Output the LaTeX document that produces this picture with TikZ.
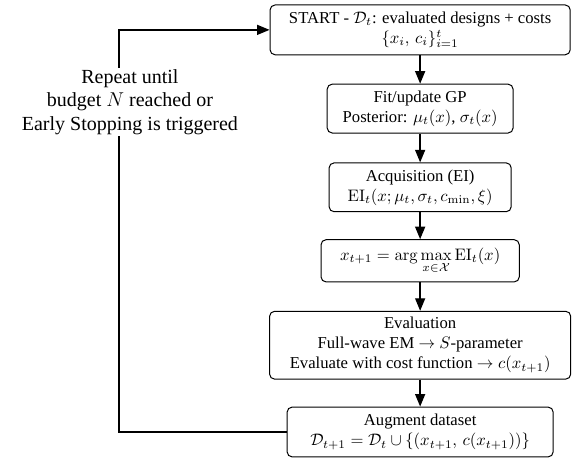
\documentclass[tikz,border=0pt]{standalone}
\usepackage{amsmath}
\usepackage[no-math]{fontspec}
\setmainfont{Liberation Serif}
\usetikzlibrary{arrows.meta}

\tikzset{
    stage/.style = {draw, rounded corners=3pt, align=center, inner sep=3pt, line width=0.6pt},
    flow/.style = {thick, -{Triangle[length=7.5pt, width=6pt]}}
}

\begin{document}
\begin{tikzpicture}
        \useasboundingbox (0,0) rectangle (12.21,-9.74);
        \node[stage, minimum width=6.33cm, minimum height=1.05cm] (start) at (8.86,-0.63) {START - $\mathcal{D}_t$: evaluated designs + costs\\ $\{x_i,\, c_i\}_{i=1}^{t}$};
        \node[stage, minimum width=3.92cm, minimum height=1.03cm] (fitgp) at (8.86,-2.29) {Fit/update GP\\ Posterior: $\mu_t(x)$, $\sigma_t(x)$};
        \node[stage, minimum width=3.84cm, minimum height=1.03cm] (acq) at (8.86,-3.95) {Acquisition (EI)\\ $\mathrm{EI}_t(x;\mu_t,\sigma_t,c_{\min},\xi)$};
        \node[stage, minimum width=4.18cm, minimum height=0.89cm] (argmax) at (8.86,-5.50) {$x_{t+1} = \arg\max\limits_{x\in\mathcal{X}} \mathrm{EI}_t(x)$};
        \node[stage, minimum width=6.35cm, minimum height=1.43cm] (evalem) at (8.86,-7.28) {Evaluation\\ Full-wave EM $\rightarrow$ $S$-parameter\\ Evaluate with cost function $\rightarrow c(x_{t+1})$};
        \node[stage, minimum width=5.61cm, minimum height=1.05cm] (augment) at (8.86,-9.11) {Augment dataset\\ $\mathcal{D}_{t+1} = \mathcal{D}_t \cup \{(x_{t+1},\, c(x_{t+1}))\}$};
        \draw[flow] (start) -- (fitgp);
        \draw[flow] (fitgp) -- (acq);
        \draw[flow] (acq) -- (argmax);
        \draw[flow] (argmax) -- (evalem);
        \draw[flow] (evalem) -- (augment);
        % feedback loop
        \coordinate (turn) at (2.51,-0.63);
        \draw[flow] (augment.west) -| (turn) -- (start.west);
        \node[fill=white, align=center, font=\large, inner sep=1pt] (repeat) at (2.74,-2.15) {Repeat until\\ budget $N$ reached or\\ Early Stopping is triggered};
    \end{tikzpicture}
\end{document}
